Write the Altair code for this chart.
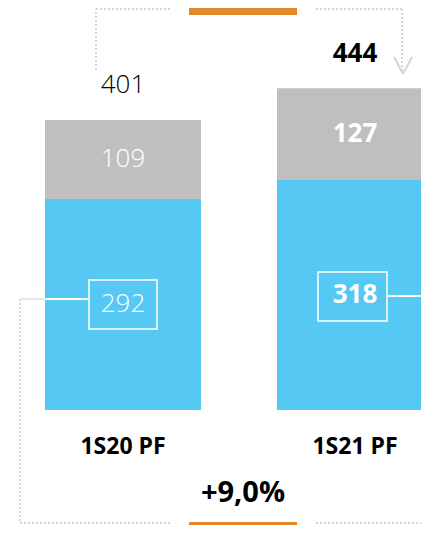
import altair as alt
import pandas as pd

categories = ["1S20 PF", "1S21 PF"]
base_values = [292, 318]
top_values = [109, 127]
totals = [401, 444]
growth_label = "+9,0%"

rows = []
for c, b, t in zip(categories, base_values, top_values):
    rows.append({"cat": c, "seg": "base", "start": 0, "end": b, "mid": b / 2, "label": str(b)})
    rows.append({"cat": c, "seg": "top", "start": b, "end": b + t, "mid": b + t / 2, "label": str(t)})
df = pd.DataFrame(rows)
tot = pd.DataFrame({"cat": categories, "total": totals, "zero": [0, 0]})
one = pd.DataFrame({"a": [0]})

FONT = "Open Sans"
BLUE = "#55C9F4"
GREY = "#BFBFBF"
ORANGE = "#E3892D"
DOT = "#D6D6D6"

xs = alt.X("cat:N", sort=categories, axis=None,
           scale=alt.Scale(range=[37, 425], paddingInner=0.3276, paddingOuter=0))
ysc = alt.Scale(domain=[0, 556], nice=False, zero=True)

bars = alt.Chart(df).mark_bar().encode(
    x=xs,
    y=alt.Y("start:Q", scale=ysc, axis=None),
    y2="end:Q",
    color=alt.Color("seg:N", scale=alt.Scale(domain=["base", "top"], range=[BLUE, GREY]), legend=None),
)

def seg_text(cat, weight):
    return alt.Chart(df).transform_filter(alt.datum.cat == cat).mark_text(
        font=FONT, fontSize=26, fontWeight=weight, color="white", baseline="middle"
    ).encode(x=xs, y=alt.Y("mid:Q", scale=ysc), text="label:N")

def tot_text(cat, weight):
    return alt.Chart(tot).transform_filter(alt.datum.cat == cat).mark_text(
        font=FONT, fontSize=26, fontWeight=weight, color="black", baseline="middle", dy=-35
    ).encode(x=xs, y=alt.Y("total:Q", scale=ysc), text="total:Q")

cat_text = alt.Chart(tot).mark_text(
    font=FONT, fontSize=23, fontWeight="bold", color="black", baseline="middle", dy=37
).encode(x=xs, y=alt.Y("zero:Q", scale=ysc), text="cat:N")

def rule(x1, y1, x2, y2, color=DOT, dash=True, w=2):
    kw = dict(color=color, strokeWidth=w)
    if dash:
        kw["strokeDash"] = [2, 2]
    return alt.Chart(one).mark_rule(**kw).encode(
        x=alt.value(x1), y=alt.value(y1), x2=alt.value(x2), y2=alt.value(y2))

def rect(x1, y1, x2, y2, fill=None, stroke=None):
    kw = {}
    if fill:
        kw["fill"] = fill
    else:
        kw["fill"] = "transparent"
    if stroke:
        kw["stroke"] = stroke
        kw["strokeWidth"] = 1.5
    return alt.Chart(one).mark_rect(**kw).encode(
        x=alt.value(x1), y=alt.value(y1), x2=alt.value(x2), y2=alt.value(y2))

growth = alt.Chart(one).mark_text(
    font=FONT, fontSize=29, fontWeight="bold", color="black", baseline="middle"
).encode(x=alt.value(235), y=alt.value(485), text=alt.value(growth_label))

layers = [
    bars,
    # connectors
    rule(88, 62, 88, 1), rule(88, 1, 162, 1),
    rule(308, 1, 394, 1), rule(394, 1, 394, 64),
    rule(386, 49, 395, 66, dash=False), rule(395, 66, 404, 49, dash=False),
    rule(12, 291, 12, 515), rule(12, 515, 162, 515), rule(308, 515, 421, 515),
    rect(181, 0, 289, 7, fill=ORANGE), rect(181, 514, 289, 525, fill=ORANGE),
    rule(12, 291, 37, 291, color="#E6E6E6", dash=False),
    rule(37, 291, 81, 291, color="white", dash=False),
    rule(379, 288, 421, 288, color="white", dash=False),
    rect(81, 272, 149, 321, stroke="white"),
    rect(310, 264, 379, 313, stroke="white"),
    seg_text(categories[0], 300), seg_text(categories[1], "bold"),
    tot_text(categories[0], 300), tot_text(categories[1], "bold"),
    cat_text, growth,
]

chart = alt.layer(*layers).properties(
    width=413, height=402,
    padding={"left": 0, "top": 0, "right": 0, "bottom": 115},
    autosize=alt.AutoSizeParams(type="none"),
).configure_view(stroke=None)

chart.save("out.html", embed_options={"renderer": "svg", "actions": False})
